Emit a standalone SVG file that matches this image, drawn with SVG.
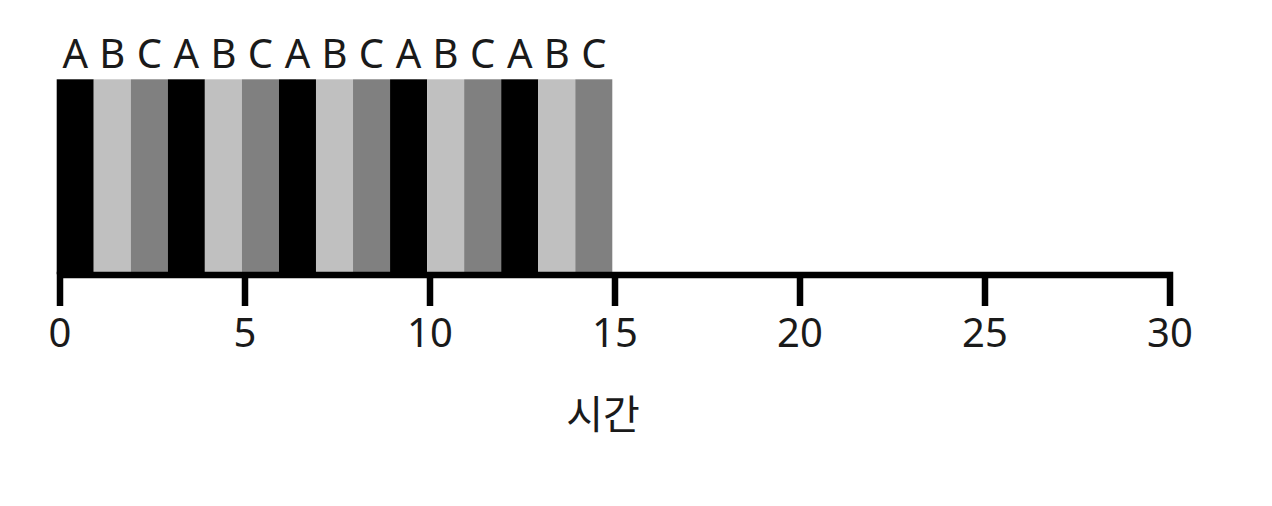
<svg xmlns="http://www.w3.org/2000/svg" width="1272" height="506" viewBox="0 0 1272 506">
<style>
.t{font-family:"Noto Sans","Noto Sans CJK KR",sans-serif;font-size:40px;fill:#1a1a1a;text-anchor:middle}
.a{fill:#000}.b{fill:#c0c0c0}.c{fill:#808080}
.ax{fill:none;stroke:#000;stroke-width:6.5;stroke-linejoin:miter}
</style>
<rect width="1272" height="506" fill="#fff"/>
<g id="bars">
<rect class="a" x="56.7" y="79.3" width="37.04" height="195"/>
<rect class="b" x="93.74" y="79.3" width="37.04" height="195"/>
<rect class="c" x="130.78" y="79.3" width="37.04" height="195"/>
<rect class="a" x="167.82" y="79.3" width="37.04" height="195"/>
<rect class="b" x="204.86" y="79.3" width="37.04" height="195"/>
<rect class="c" x="241.9" y="79.3" width="37.04" height="195"/>
<rect class="a" x="278.94" y="79.3" width="37.04" height="195"/>
<rect class="b" x="315.98" y="79.3" width="37.04" height="195"/>
<rect class="c" x="353.02" y="79.3" width="37.04" height="195"/>
<rect class="a" x="390.06" y="79.3" width="37.04" height="195"/>
<rect class="b" x="427.1" y="79.3" width="37.04" height="195"/>
<rect class="c" x="464.14" y="79.3" width="37.04" height="195"/>
<rect class="a" x="501.18" y="79.3" width="37.04" height="195"/>
<rect class="b" x="538.22" y="79.3" width="37.04" height="195"/>
<rect class="c" x="575.26" y="79.3" width="37.04" height="195"/>
</g>
<g id="bar-labels" class="t">
<text x="75.2" y="68">A</text>
<text x="112.3" y="68">B</text>
<text x="149.3" y="68">C</text>
<text x="186.3" y="68">A</text>
<text x="223.4" y="68">B</text>
<text x="260.4" y="68">C</text>
<text x="297.5" y="68">A</text>
<text x="334.5" y="68">B</text>
<text x="371.5" y="68">C</text>
<text x="408.6" y="68">A</text>
<text x="445.6" y="68">B</text>
<text x="482.7" y="68">C</text>
<text x="519.7" y="68">A</text>
<text x="556.7" y="68">B</text>
<text x="593.8" y="68">C</text>
</g>
<g id="axis">
<path class="ax" d="M60,306V275H1170V306"/>
<path class="ax" d="M245,275V306M430,275V306M615,275V306M800,275V306M985,275V306"/>
</g>
<g id="tick-labels" class="t">
<text x="60" y="346.5">0</text>
<text x="245" y="346.5">5</text>
<text x="430" y="346.5">10</text>
<text x="615" y="346.5">15</text>
<text x="800" y="346.5">20</text>
<text x="985" y="346.5">25</text>
<text x="1170" y="346.5">30</text>
</g>
<g id="axis-title" class="t">
<text x="603" y="429">시간</text>
</g>
</svg>
